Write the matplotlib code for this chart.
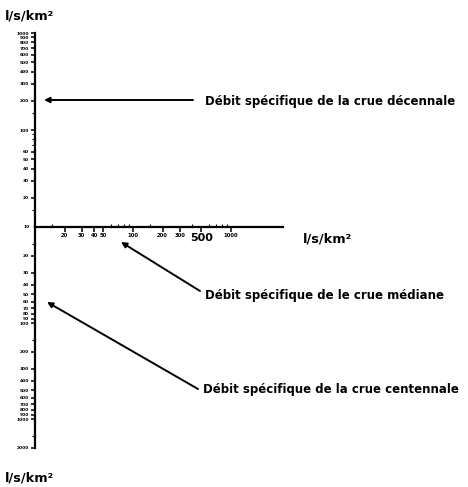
import matplotlib
matplotlib.use("Agg")
import matplotlib.pyplot as plt
from matplotlib.patches import FancyArrowPatch
from matplotlib.ticker import FixedLocator, FixedFormatter, NullFormatter

W, H = 468, 487
unit = "l/s/km²"

# scale values
up_major = [20, 30, 40, 50, 60, 100, 200, 300, 400, 500, 600, 700, 800, 900, 1000]
up_labels = ["20", "30", "40", "50", "60", "100", "200", "300", "400", "500", "600", "700", "800", "900", "1000"]
up_minor = [15, 70, 80, 90, 150]
low_major = [20, 30, 40, 50, 60, 70, 80, 90, 100, 200, 300, 400, 500, 600, 700, 800, 900, 1000, 2000]
low_labels = ["20", "30", "40", "50", "60", "70", "80", "90", "100", "200", "300", "400", "500", "600", "700", "800", "900", "1000", "2000"]
low_minor = [15, 150, 1500]
x_major = [20, 30, 40, 50, 100, 200, 300, 500, 1000]
x_labels = ["20", "30", "40", "50", "100", "200", "300", "500", "1000"]
x_minor = [15, 60, 70, 80, 90, 150, 400, 600, 700, 800, 900]
origin_label = "10"

labels = ["Débit spécifique de la crue décennale",
          "Débit spécifique de le crue médiane",
          "Débit spécifique de la crue centennale"]


def fx(x):
    return x / W


def fy(y):
    return 1 - y / H


fig = plt.figure(figsize=(W / 100, H / 100), dpi=100)
fig.patch.set_facecolor("white")

x0 = 35
ytop, ymid, ybot = 33, 227, 448
xend = 283


def style_vertical(ax, major, labs, minor):
    for s in ["top", "right", "bottom"]:
        ax.spines[s].set_visible(False)
    ax.spines["left"].set_linewidth(1.6)
    ax.patch.set_visible(False)
    ax.set_xticks([])
    ax.yaxis.set_major_locator(FixedLocator(major))
    ax.yaxis.set_major_formatter(FixedFormatter(labs))
    ax.yaxis.set_minor_locator(FixedLocator(minor))
    ax.yaxis.set_minor_formatter(NullFormatter())
    ax.tick_params(axis="y", which="major", length=3, width=1.1, labelsize=3.2, pad=1.5)
    ax.tick_params(axis="y", which="minor", length=2, width=0.8)
    for t in ax.get_yticklabels():
        t.set_fontweight("bold")


# upper vertical scale
ax_up = fig.add_axes([fx(x0), fy(ymid), 0.3, (ymid - ytop) / H])
ax_up.set_yscale("log")
ax_up.set_ylim(10, 1000)
style_vertical(ax_up, up_major, up_labels, up_minor)

# lower vertical scale (inverted)
ax_low = fig.add_axes([fx(x0), fy(ybot), 0.3, (ybot - ymid) / H])
ax_low.set_yscale("log")
ax_low.set_ylim(2000, 10)
style_vertical(ax_low, low_major, low_labels, low_minor)

# horizontal scale
dec = 98.0
xmax = 10 ** (1 + (xend - x0) / dec)
ax_x = fig.add_axes([fx(x0), fy(ymid), (xend - x0) / W, 0.001])
ax_x.set_xscale("log")
ax_x.set_xlim(10, xmax)
for s in ["top", "right", "left"]:
    ax_x.spines[s].set_visible(False)
ax_x.spines["bottom"].set_linewidth(1.6)
ax_x.patch.set_visible(False)
ax_x.set_yticks([])
ax_x.xaxis.set_major_locator(FixedLocator(x_major))
ax_x.xaxis.set_major_formatter(FixedFormatter(x_labels))
ax_x.xaxis.set_minor_locator(FixedLocator(x_minor))
ax_x.xaxis.set_minor_formatter(NullFormatter())
ax_x.tick_params(axis="x", which="major", length=3.5, width=1.1, labelsize=3.8, pad=1)
ax_x.tick_params(axis="x", which="minor", length=2, width=0.8, direction="in")
for t in ax_x.get_xticklabels():
    t.set_fontweight("bold")
    if t.get_text() == "500":
        t.set_fontsize(8)

# shared origin label
fig.text(fx(30), fy(227), origin_label, fontsize=3.2, fontweight="bold", va="center", ha="right")

# unit labels
for (ux, uy) in [(5, 16), (303, 239), (5, 478)]:
    fig.text(fx(ux), fy(uy), unit, fontsize=9.3, fontweight="bold", va="center", ha="left")

# arrows and annotations
arrow = dict(arrowstyle="-|>", color="black", lw=1.4, mutation_scale=8, shrinkA=0, shrinkB=0)
for (xa, ya), (xb, yb) in [((193, 100), (44, 100)), ((200, 291), (121, 242)), ((198, 389), (47, 302))]:
    fig.patches.append(FancyArrowPatch((fx(xa), fy(ya)), (fx(xb), fy(yb)),
                                       transform=fig.transFigure, **arrow))

txt_kw = dict(fontsize=8.5, va="center", ha="left", fontweight="bold")
fig.text(fx(205), fy(101), labels[0], **txt_kw)
fig.text(fx(205), fy(296), labels[1], **txt_kw)
fig.text(fx(203), fy(390), labels[2], **txt_kw)

fig.savefig("out.png", dpi=100, facecolor="white")
